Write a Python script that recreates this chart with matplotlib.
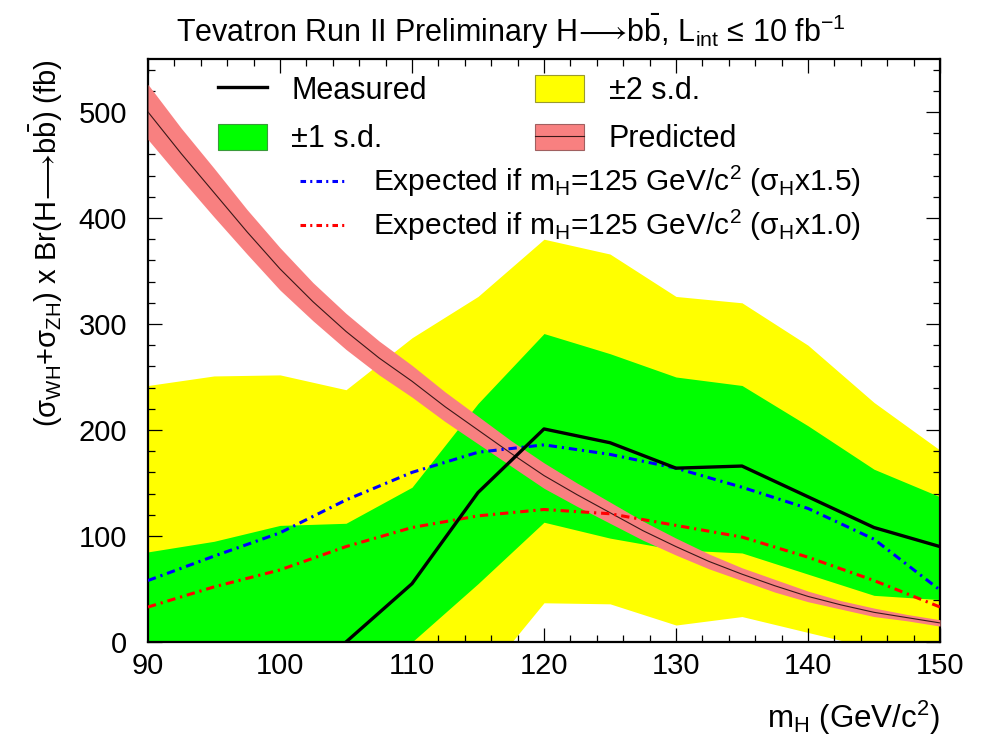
import numpy as np
import matplotlib
matplotlib.use("Agg")
import matplotlib.pyplot as plt
from matplotlib.lines import Line2D
from matplotlib.patches import Patch
from matplotlib.ticker import MultipleLocator

plt.rcParams['font.family'] = ['Liberation Sans', 'DejaVu Sans']
plt.rcParams['mathtext.fontset'] = 'custom'
plt.rcParams['mathtext.rm'] = 'Liberation Sans'
plt.rcParams['mathtext.it'] = 'Liberation Sans:italic'
plt.rcParams['mathtext.bf'] = 'Liberation Sans:bold'
plt.rcParams['mathtext.sf'] = 'Liberation Sans'
plt.rcParams['mathtext.fallback'] = 'stixsans'
plt.rcParams['lines.scale_dashes'] = False

# Higgs mass points (GeV/c^2)
mass = [90, 95, 100, 105, 110, 115, 120, 125, 130, 135, 140, 145, 150]

# Observed cross section (fb); below 105 GeV it lies under zero
measured = [np.nan, np.nan, np.nan, 0, 55, 141, 201, 188, 164, 166, 137, 108, 90]

# Background-only expectation bands (fb)
band1_hi = [85, 95, 110, 112, 146, 225, 291, 272, 250, 242, 204, 163, 137]
band1_lo = [-160, -130, -100, -55, 0, 55, 113, 98, 87, 84, 64, 44, 40]
band2_hi = [242, 251, 252, 238, 287, 326, 380, 366, 326, 320, 280, 226, 181]
band2_lo = [-260, -220, -180, -130, -80, -39, 37, 36, 16, 24, 9, -6, -20]

# Expected fits with a 125 GeV signal injected (fb)
exp_x15 = [58, 81, 103, 134, 160, 179, 186, 177, 164, 146, 126, 97, 49]
exp_x10 = [33, 52, 68, 90, 108, 119, 125, 121, 110, 99, 80, 58, 33]

# SM prediction and its uncertainty band (fb), finer mass grid
pred_mass = [90, 92.5, 95, 97.5, 100, 102.5, 105, 107.5, 110, 112.5, 115, 117.5,
             120, 122.5, 125, 127.5, 130, 132.5, 135, 137.5, 140, 142.5, 145, 147.5, 150]
pred = [500, 461, 424, 387, 352, 321, 293, 268, 246, 222, 200, 178,
        157, 139, 122, 105, 90, 76, 64, 53, 43, 35, 28, 23, 18]
pred_hi = [526, 485, 447, 408, 372, 339, 310, 284, 261, 236, 213, 190,
           169, 150, 132, 114, 98, 83, 70, 59, 48, 39, 32, 26, 21]
pred_lo = [474, 437, 401, 366, 332, 303, 276, 252, 231, 208, 187, 166,
           145, 128, 112, 96, 82, 69, 58, 47, 38, 31, 24, 20, 15]

YELLOW = '#ffff00'
GREEN = '#00ff00'
PINK = '#f88080'
DASHDOT = (0, (6, 3.5, 1.6, 3.5))

fig = plt.figure(figsize=(9.82, 7.39), dpi=100)
ax = fig.add_axes([148 / 982, 1 - 642 / 739, 792 / 982, 583 / 739])

ax.fill_between(mass, band2_lo, band2_hi, color=YELLOW, lw=0, zorder=1)
ax.fill_between(mass, band1_lo, band1_hi, color=GREEN, lw=0, zorder=2)
ax.fill_between(pred_mass, pred_lo, pred_hi, color=PINK, lw=0, zorder=3)
ax.plot(pred_mass, pred, color='#3a1818', lw=0.8, zorder=4)
ax.plot(mass, exp_x15, color='#0000ff', lw=2.2, linestyle=DASHDOT, zorder=5)
ax.plot(mass, exp_x10, color='#ff0000', lw=2.2, linestyle=DASHDOT, zorder=5)
ax.plot(mass, measured, color='black', lw=2.4, zorder=6)

ax.set_xlim(90, 150)
ax.set_ylim(0, 550)

ax.xaxis.set_major_locator(MultipleLocator(10))
ax.xaxis.set_minor_locator(MultipleLocator(2))
ax.yaxis.set_major_locator(MultipleLocator(100))
ax.yaxis.set_minor_locator(MultipleLocator(20))
ax.tick_params(which='both', direction='in', top=True, right=True,
               width=0.9, labelsize=21, colors='black')
ax.tick_params(which='major', length=10)
ax.tick_params(which='minor', length=5)
ax.tick_params(axis='y', pad=15)
ax.tick_params(axis='x', pad=7)
for s in ax.spines.values():
    s.set_linewidth(1.6)

ARROW = "$\\!\\longrightarrow\\!$"
ax.set_xlabel("m$_{\\mathrm{H}}$ (GeV/c$^{2}$)", fontsize=22.5, loc='right', labelpad=14)
ax.set_ylabel("(σ$_{\\mathrm{WH}}$+σ$_{\\mathrm{ZH}}$) x Br(H" + ARROW +
              "b$\\bar{\\mathrm{b}}$) (fb)",
              fontsize=21, loc='top', labelpad=10)
ax.set_title("Tevatron Run II Preliminary H" + ARROW + "b$\\bar{\\mathrm{b}}$, "
             "L$_{\\mathrm{int}}$ ≤ 10 fb$^{-1}$", fontsize=22, pad=12,
             x=(511 - 148) / 792)

h_meas = Line2D([], [], color='black', lw=2.4)
h_one = Patch(facecolor=GREEN, edgecolor='#3a9a3a', lw=0.8)
h_two = Patch(facecolor=YELLOW, edgecolor='#9a9a30', lw=0.8)
h_pred = (Patch(facecolor=PINK, edgecolor='#a06060', lw=0.8),
          Line2D([], [], color='#3a1818', lw=0.8))
leg1 = ax.legend([h_meas, h_one, h_two, h_pred],
                 ['Measured', '±1 s.d.', '±2 s.d.', 'Predicted'],
                 ncol=2, loc='upper left', bbox_to_anchor=(0.0884, 0.972),
                 frameon=False, fontsize=22, handlelength=1.6, handleheight=0.95,
                 handletextpad=0.8, columnspacing=3.55, labelspacing=0.58,
                 borderpad=0, borderaxespad=0)
ax.add_artist(leg1)

h_b = Line2D([], [], color='#0000ff', lw=2.2, linestyle=(0, (4, 3, 1.5, 3)))
h_r = Line2D([], [], color='#ff0000', lw=2.2, linestyle=(0, (4, 3, 1.5, 3)))
leg2 = ax.legend([h_b, h_r],
                 ["Expected if m$_{\\mathrm{H}}$=125 GeV/c$^{2}$ (σ$_{\\mathrm{H}}$x1.5)",
                  "Expected if m$_{\\mathrm{H}}$=125 GeV/c$^{2}$ (σ$_{\\mathrm{H}}$x1.0)"],
                 loc='upper left', bbox_to_anchor=(0.192, 0.82),
                 frameon=False, fontsize=21.5, handlelength=1.5,
                 handletextpad=0.95, labelspacing=0.3,
                 borderpad=0, borderaxespad=0)

fig.savefig('out.png', dpi=100)
